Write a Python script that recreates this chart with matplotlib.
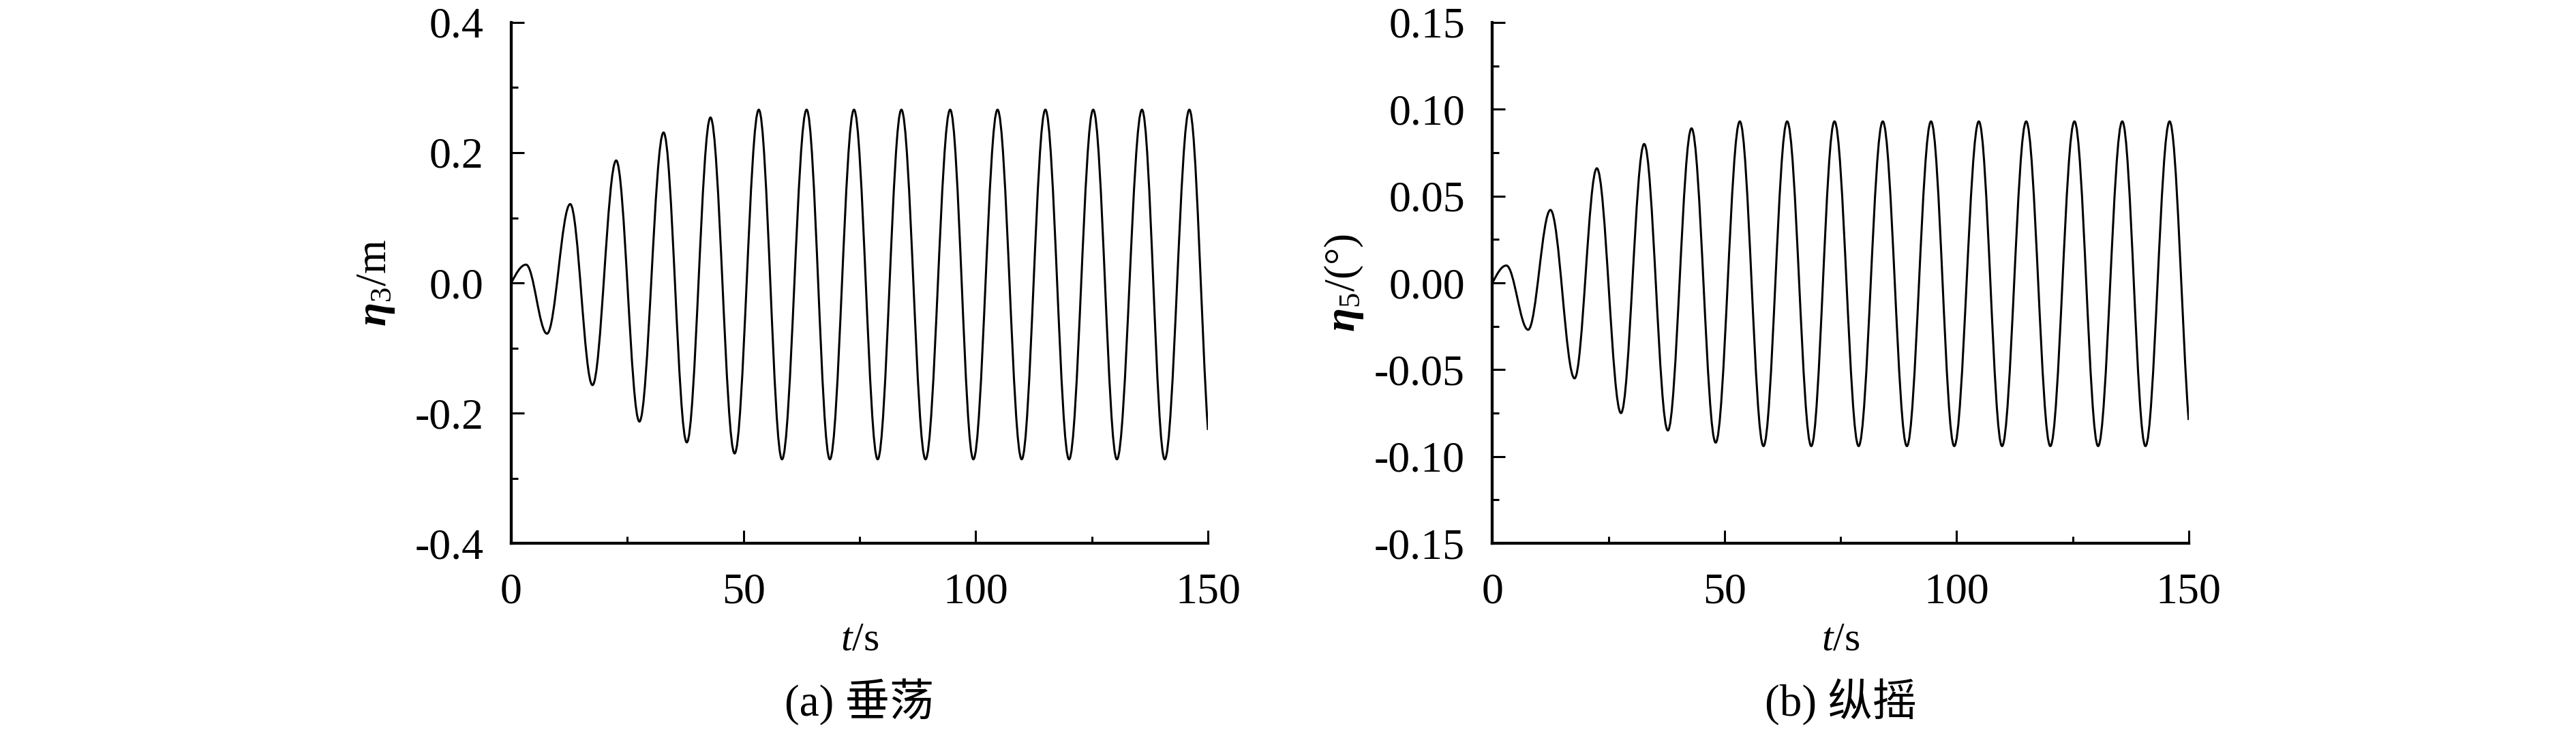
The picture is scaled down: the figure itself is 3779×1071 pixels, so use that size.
import numpy as np
import matplotlib
matplotlib.use('Agg')
import matplotlib.pyplot as plt
from matplotlib.path import Path
from matplotlib.patches import PathPatch
from matplotlib.ticker import MultipleLocator, FormatStrFormatter

# heave record: start point, every peak / trough, end point (t in s, eta3 in m)
heave_t = [0, 3.2, 7.7, 12.7, 17.5, 22.6, 27.6, 32.8, 37.8, 42.9, 48.1,
           53.3, 58.3, 63.6, 68.6, 73.8, 78.9, 84.0, 89.2, 94.5, 99.5,
           104.7, 109.9, 115.0, 120.1, 125.3, 130.4, 135.8, 140.7, 146.0, 150.0]
heave_v = [0, 0.028, -0.078, 0.121, -0.157, 0.188, -0.213, 0.231, -0.245, 0.254, -0.262,
           0.266, -0.271, 0.266, -0.271, 0.266, -0.271, 0.266, -0.271, 0.266, -0.271,
           0.266, -0.271, 0.266, -0.271, 0.266, -0.271, 0.266, -0.271, 0.266, -0.226]
heave_end_slope = -0.10

# pitch record (t in s, eta5 in deg)
pitch_t = [0, 3.0, 7.7, 12.5, 17.7, 22.5, 27.7, 32.7, 37.8, 42.9, 48.1,
           53.3, 58.4, 63.5, 68.7, 73.7, 78.9, 84.1, 89.3, 94.5, 99.5,
           104.8, 109.8, 115.0, 120.2, 125.4, 130.5, 135.7, 140.7, 145.9, 150.0]
pitch_v = [0, 0.010, -0.027, 0.042, -0.055, 0.066, -0.075, 0.080, -0.085, 0.089, -0.092,
           0.093, -0.094, 0.093, -0.094, 0.093, -0.094, 0.093, -0.094, 0.093, -0.094,
           0.093, -0.094, 0.093, -0.094, 0.093, -0.094, 0.093, -0.094, 0.093, -0.079]
pitch_end_slope = -0.034

plt.rcParams['font.family'] = ['Liberation Serif', 'Noto Sans CJK SC']
plt.rcParams['mathtext.fontset'] = 'custom'
plt.rcParams['mathtext.rm'] = 'Liberation Serif'
plt.rcParams['mathtext.it'] = 'Liberation Serif:italic'
plt.rcParams['mathtext.bf'] = 'Liberation Serif:bold'
plt.rcParams['mathtext.bfit'] = 'Liberation Serif:italic:bold'
plt.rcParams['axes.unicode_minus'] = False


def curve_path(t, v, end_slope):
    # cubic pieces between turning points, flat tangent at each peak/trough
    k = 1 - 2 / np.pi
    verts = [(t[0], v[0])]
    codes = [Path.MOVETO]
    n = len(t)
    for i in range(n - 1):
        t0, v0, t1, v1 = t[i], v[i], t[i + 1], v[i + 1]
        dt = t1 - t0
        if i == 0:
            c1 = (t0 + dt / 3, v0 + 0.5 * (v1 - v0))
        else:
            c1 = (t0 + k * dt, v0)
        if i == n - 2:
            c2 = (t1 - dt / 3, v1 - end_slope * dt / 3)
        else:
            c2 = (t1 - k * dt, v1)
        verts += [c1, c2, (t1, v1)]
        codes += [Path.CURVE4] * 3
    return Path(verts, codes)


fig = plt.figure(figsize=(37.8, 10.71), dpi=100)
ax1 = fig.add_axes([0.1984, 0.2558, 0.2704, 0.7134])
ax2 = fig.add_axes([0.5792, 0.2558, 0.2702, 0.7134])

ax1.add_patch(PathPatch(curve_path(heave_t, heave_v, heave_end_slope), fill=False, ec='black', lw=2.2))
ax2.add_patch(PathPatch(curve_path(pitch_t, pitch_v, pitch_end_slope), fill=False, ec='black', lw=2.2))

ax1.set_ylim(-0.4, 0.4)
ax1.yaxis.set_major_locator(MultipleLocator(0.2))
ax1.yaxis.set_minor_locator(MultipleLocator(0.1))
ax1.yaxis.set_major_formatter(FormatStrFormatter('%.1f'))
ax1.set_ylabel(r'$\mathbfit{\eta}_{\mathrm{3}}$/m', fontsize=46, va='center')
ax1.yaxis.set_label_coords(-0.194, 0.5)

ax2.set_ylim(-0.15, 0.15)
ax2.yaxis.set_major_locator(MultipleLocator(0.05))
ax2.yaxis.set_minor_locator(MultipleLocator(0.025))
ax2.yaxis.set_major_formatter(FormatStrFormatter('%.2f'))
ax2.set_ylabel(r'$\mathbfit{\eta}_{\mathrm{5}}$/(°)', fontsize=46, va='center')
ax2.yaxis.set_label_coords(-0.213, 0.5)

for ax in (ax1, ax2):
    ax.set_xlim(0, 150)
    ax.xaxis.set_major_locator(MultipleLocator(50))
    ax.xaxis.set_minor_locator(MultipleLocator(25))
    ax.xaxis.set_major_formatter(FormatStrFormatter('%d'))
    ax.spines['top'].set_visible(False)
    ax.spines['right'].set_visible(False)
    ax.spines['left'].set_linewidth(3.1)
    ax.spines['bottom'].set_linewidth(3.1)
    ax.tick_params(which='both', direction='in', width=2.2, top=False, right=False)
    ax.tick_params(which='major', length=13.7)
    ax.tick_params(which='minor', length=7.2)
    ax.tick_params(axis='x', which='major', pad=31.5, labelsize=46)
    ax.tick_params(axis='y', which='major', pad=29, labelsize=46)
    ax.set_xlabel(r'$t$/s', fontsize=43, va='center')
    ax.xaxis.set_label_coords(0.5, -0.187)

fig.text(0.1984 + 0.2704 / 2, 0.0383, '(a) 垂荡', ha='center', va='center', fontsize=47)
fig.text(0.5792 + 0.2702 / 2, 0.0383, '(b) 纵摇', ha='center', va='center', fontsize=47)

fig.savefig('out.png', dpi=100)
